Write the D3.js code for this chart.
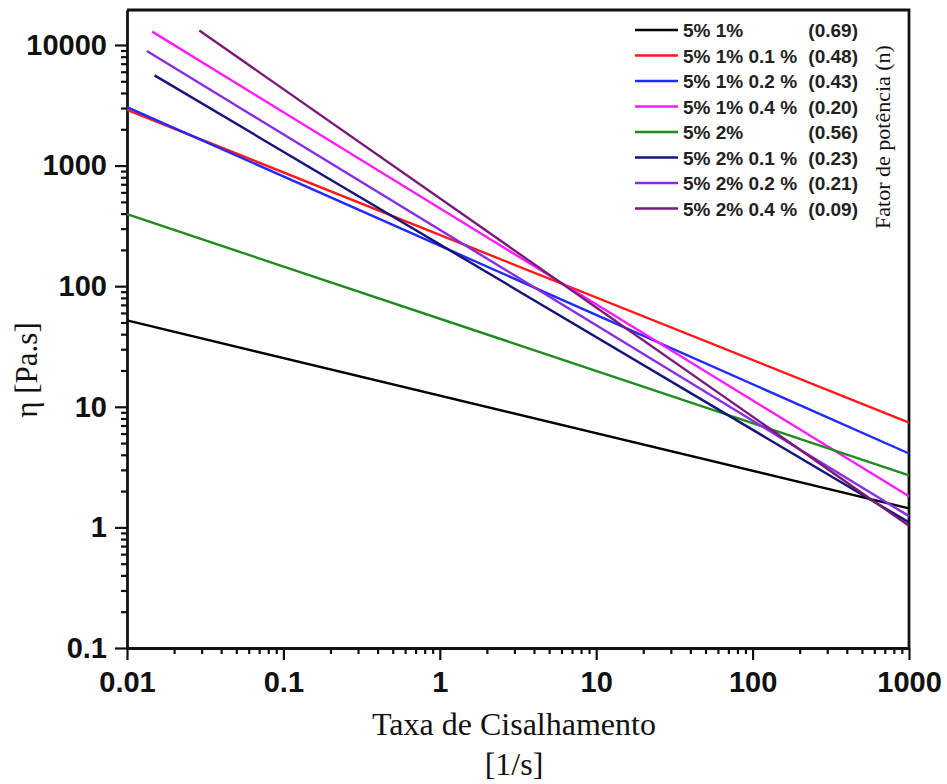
<!DOCTYPE html>
<html>
<head>
<meta charset="utf-8">
<script src="https://cdn.jsdelivr.net/npm/d3@7"></script>
<style>
  body { margin: 0; background: #fff; }
  .tick text { font-family: "Liberation Sans", Arial, sans-serif; font-weight: bold; font-size: 29px; fill: #111; }
  .serif { font-family: "Liberation Serif", "Times New Roman", serif; fill: #111; }
  .legText { font-family: "Liberation Sans", Arial, sans-serif; font-weight: bold; font-size: 19px; fill: #222; }
</style>
</head>
<body>
<div id="chart"></div>
<script>
// series (power-law fits, straight lines on log-log axes)
var seriesNames = ['5% 1%', '5% 1% 0.1 %', '5% 1% 0.2 %', '5% 1% 0.4 %', '5% 2%', '5% 2% 0.1 %', '5% 2% 0.2 %', '5% 2% 0.4 %'];
var nValues = ['(0.69)', '(0.48)', '(0.43)', '(0.20)', '(0.56)', '(0.23)', '(0.21)', '(0.09)'];
var colors = ['#000000', '#ff1a1a', '#1f2bff', '#ff1aff', '#1e8c1e', '#14147a', '#8a2be8', '#7a1a78'];
var xStart = [0.01, 0.01, 0.01, 0.0145, 0.01, 0.015, 0.0134, 0.029];
var yStart = [52, 2900, 3050, 12900, 395, 5600, 8900, 13200];
var xEnd = [1000, 1000, 1000, 1000, 1000, 1000, 1000, 1000];
var yEnd = [1.44, 7.4, 4.1, 1.81, 2.7, 1.1, 1.24, 1.03];

var xTicks = [0.01, 0.1, 1, 10, 100, 1000];
var yTicks = [0.1, 1, 10, 100, 1000, 10000];

var svgWidth = 947;
var svgHeight = 784;
var margin = { top: 10, right: 38, bottom: 136, left: 127 };
var width = svgWidth - margin.left - margin.right;
var height = svgHeight - margin.top - margin.bottom;

var svg = d3.select('#chart')
  .append('svg')
  .attr('width', svgWidth)
  .attr('height', svgHeight);

var chartGroup = svg.append('g')
  .attr('transform', `translate(${margin.left}, ${margin.top})`);

var xScale = d3.scaleLog().domain([0.01, 1000]).range([0, width]);
var yScale = d3.scaleLog().domain([0.1, 19500]).range([height, 0]);

// minor ticks 2..9 in each decade
function minors(ticks) {
  var out = [];
  ticks.slice(0, -1).forEach(function(t) {
    for (var k = 2; k <= 9; k++) out.push(t * k);
  });
  return out;
}
var fmt = function(d) { return d < 1 ? String(+d.toPrecision(1)) : d3.format('d')(d); };

// minor ticks
chartGroup.append('g')
  .attr('transform', `translate(0, ${height})`)
  .call(d3.axisBottom(xScale).tickValues(minors(xTicks)).tickSize(6).tickFormat(''))
  .call(g => g.select('.domain').remove());
chartGroup.append('g')
  .call(d3.axisLeft(yScale).tickValues(minors(yTicks)).tickSize(6).tickFormat(''))
  .call(g => g.select('.domain').remove());

// major axes
chartGroup.append('g')
  .attr('transform', `translate(0, ${height})`)
  .call(d3.axisBottom(xScale).tickValues(xTicks).tickSize(12).tickSizeOuter(0).tickPadding(11).tickFormat(fmt));
chartGroup.append('g')
  .call(d3.axisLeft(yScale).tickValues(yTicks).tickSize(12).tickSizeOuter(0).tickPadding(8).tickFormat(fmt));

chartGroup.selectAll('.tick line').attr('stroke', '#111').attr('stroke-width', 2.2);
chartGroup.selectAll('.domain').attr('stroke', '#111').attr('stroke-width', 2.8);

// top and right frame
chartGroup.append('path')
  .attr('d', `M0,0H${width}V${height}`)
  .attr('fill', 'none')
  .attr('stroke', '#111')
  .attr('stroke-width', 2.8);

// lines
var line = d3.line()
  .x(d => xScale(d[0]))
  .y(d => yScale(d[1]));

seriesNames.forEach(function(name, i) {
  chartGroup.append('path')
    .datum([[xStart[i], yStart[i]], [xEnd[i], yEnd[i]]])
    .attr('d', line)
    .attr('fill', 'none')
    .attr('stroke', colors[i])
    .attr('stroke-width', 2.4);
});

// legend
var legend = svg.append('g').attr('transform', 'translate(635, 37)');
seriesNames.forEach(function(name, i) {
  var row = legend.append('g').attr('transform', `translate(0, ${i * 25.5})`);
  row.append('line')
    .attr('x1', 0).attr('x2', 43)
    .attr('y1', -7).attr('y2', -7)
    .attr('stroke', colors[i])
    .attr('stroke-width', 2.4);
  row.append('text')
    .attr('class', 'legText')
    .attr('x', 48)
    .text(name);
  row.append('text')
    .attr('class', 'legText')
    .attr('x', 223)
    .attr('text-anchor', 'end')
    .text(nValues[i]);
});

// axis titles
svg.append('text')
  .attr('class', 'serif')
  .attr('transform', 'translate(890, 137) rotate(-90)')
  .attr('text-anchor', 'middle')
  .style('font-size', '22px')
  .text('Fator de potência (n)');

svg.append('text')
  .attr('class', 'serif')
  .attr('transform', 'translate(37, 370) rotate(-90)')
  .attr('text-anchor', 'middle')
  .style('font-size', '31px')
  .text('η [Pa.s]');

svg.append('text')
  .attr('class', 'serif')
  .attr('x', 514).attr('y', 735)
  .attr('text-anchor', 'middle')
  .style('font-size', '32px')
  .text('Taxa de Cisalhamento');

svg.append('text')
  .attr('class', 'serif')
  .attr('x', 514).attr('y', 775)
  .attr('text-anchor', 'middle')
  .style('font-size', '32px')
  .text('[1/s]');
</script>
</body>
</html>
